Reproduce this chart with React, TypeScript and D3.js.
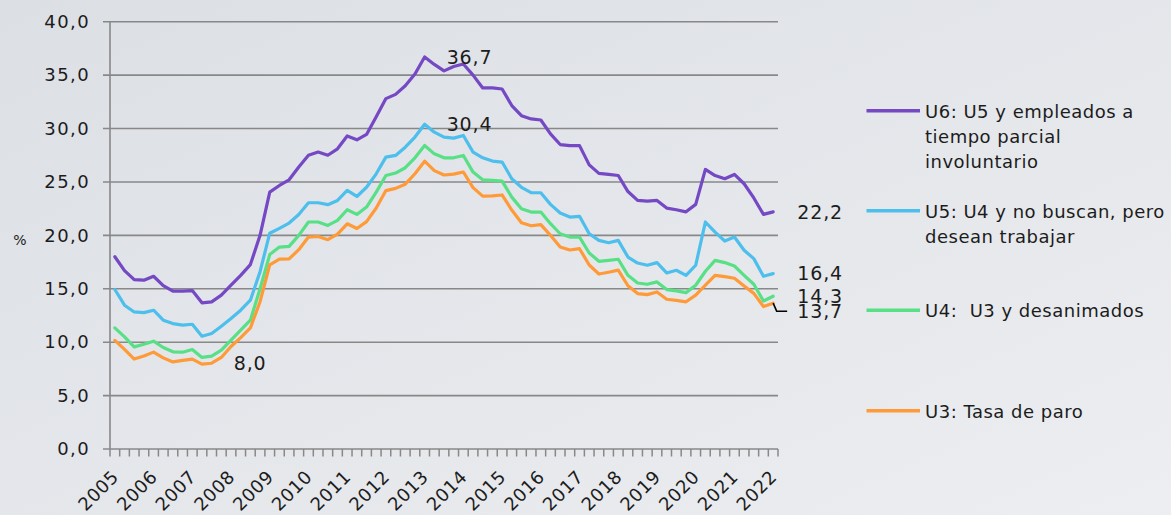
import React from 'react';
import * as d3 from 'd3';

// Quarterly categories 2005T1 .. 2022T1
const years = d3.range(2005, 2023);
const quarters: string[] = years.flatMap(y => ['T1', 'T2', 'T3', 'T4'].map(q => `${y}${q}`)).slice(0, 69);
const yearLabels: string[] = years.map(String);

const yTicks = [0, 5, 10, 15, 20, 25, 30, 35, 40];

// U3: Tasa de paro
const u3 = [10.17, 9.33, 8.42, 8.70, 9.07, 8.53, 8.15, 8.30, 8.42, 7.95, 8.03, 8.57, 9.60, 10.43, 11.33, 13.79,
  17.24, 17.77, 17.79, 18.66, 19.84, 19.89, 19.59, 20.11, 21.08, 20.64, 21.28, 22.56, 24.19, 24.40, 24.79, 25.77,
  26.94, 26.06, 25.65, 25.73, 25.93, 24.47, 23.67, 23.70, 23.78, 22.37, 21.18, 20.90, 21.00, 20.00, 18.91, 18.63,
  18.75, 17.22, 16.38, 16.55, 16.74, 15.28, 14.55, 14.45, 14.70, 14.02, 13.92, 13.78, 14.41, 15.33, 16.26, 16.13,
  15.98, 15.26, 14.57, 13.33, 13.65];

// U4: U3 y desanimados
const u4 = [11.34, 10.5, 9.56, 9.81, 10.09, 9.5, 9.1, 9.06, 9.31, 8.57, 8.69, 9.25, 10.19, 11.12, 12.06, 15.0,
  18.2, 18.9, 18.97, 20.0, 21.25, 21.25, 20.93, 21.4, 22.4, 21.96, 22.65, 24.05, 25.6, 25.83, 26.33, 27.26,
  28.41, 27.63, 27.26, 27.26, 27.48, 25.92, 25.2, 25.14, 25.08, 23.58, 22.49, 22.18, 22.18, 21.09, 20.15, 19.84,
  19.84, 18.35, 17.57, 17.66, 17.76, 16.26, 15.54, 15.42, 15.64, 14.92, 14.8, 14.64, 15.33, 16.64, 17.66, 17.45,
  17.13, 16.26, 15.42, 13.86, 14.3];

// U5: U4 y no buscan, pero desean trabajar
const u5 = [14.93, 13.46, 12.83, 12.77, 12.99, 12.06, 11.74, 11.59, 11.68, 10.56, 10.81, 11.5, 12.21, 12.99, 13.93, 16.6,
  20.2, 20.65, 21.15, 21.95, 23.05, 23.05, 22.87, 23.27, 24.2, 23.64, 24.5, 25.76, 27.32, 27.48, 28.25, 29.2,
  30.4, 29.66, 29.19, 29.1, 29.35, 27.79, 27.26, 26.95, 26.86, 25.3, 24.5, 23.99, 23.99, 22.9, 22.09, 21.71,
  21.78, 20.15, 19.53, 19.31, 19.53, 17.97, 17.41, 17.2, 17.45, 16.48, 16.73, 16.26, 17.2, 21.25, 20.3, 19.47,
  19.85, 18.6, 17.82, 16.17, 16.42];

// U6: U5 y empleados a tiempo parcial involuntario
const u6 = [18.0, 16.7, 15.86, 15.8, 16.17, 15.3, 14.77, 14.77, 14.83, 13.68, 13.77, 14.4, 15.33, 16.26, 17.26, 20.0,
  24.05, 24.67, 25.2, 26.4, 27.5, 27.8, 27.5, 28.1, 29.3, 28.94, 29.45, 31.1, 32.8, 33.2, 34.0, 35.1,
  36.7, 36.0, 35.4, 35.8, 36.04, 35.0, 33.8, 33.8, 33.7, 32.15, 31.2, 30.9, 30.8, 29.5, 28.5, 28.4,
  28.4, 26.6, 25.8, 25.7, 25.6, 24.1, 23.27, 23.2, 23.27, 22.55, 22.4, 22.2, 22.9, 26.17, 25.6, 25.3,
  25.7, 24.83, 23.5, 21.96, 22.2];

const seriesNames = [
  ['U6: U5 y empleados a', 'tiempo parcial', 'involuntario'],
  ['U5: U4 y no buscan, pero', 'desean trabajar'],
  ['U4:  U3 y desanimados'],
  ['U3: Tasa de paro'],
];
const seriesValues = [u6, u5, u4, u3];
const seriesColors = ['#7548c4', '#4dbfec', '#58e086', '#ff9a38'];

// labelled points: [series index, point index, dy offset, leader]
const dataLabels: [number, number, number, boolean][] = [
  [0, 32, 0, false],
  [1, 32, 0, false],
  [3, 10, 0, false],
  [0, 68, 0, false],
  [1, 68, 0, false],
  [2, 68, 0, false],
  [3, 68, 8, true],
];

const locale = d3.formatLocale({ decimal: ',', thousands: '.', grouping: [3], currency: ['', '€'] });
const fmt = locale.format('.1f');

const FONT = "'DejaVu Sans', sans-serif";
const TEXT = '#1c1c1c';
const GRID = '#888888';

export default function App() {
  const x = d3.scaleBand<number>().domain(d3.range(quarters.length)).range([110, 778]);
  const cx = (i: number) => (x(i) as number) + x.bandwidth() / 2;
  const y = d3.scaleLinear().domain([0, 40]).range([449, 21.7]);
  const line = d3.line<number>().x((_, i) => cx(i)).y(d => y(d));
  const legendY = [110.7, 210.7, 310.3, 410.7];

  return (
    <svg width={1171} height={515} style={{ position: 'absolute', left: 0, top: 0 }}
      fontFamily={FONT}>
      <defs>
        <linearGradient id="bg" x1="0" y1="0" x2="1" y2="1">
          <stop offset="0" stopColor="#dcdfe4" />
          <stop offset="1" stopColor="#eceef1" />
        </linearGradient>
      </defs>
      <rect x={0} y={0} width={1171} height={515} fill="url(#bg)" />

      {/* gridlines and y ticks */}
      {yTicks.map(t => (
        <g key={t}>
          <line x1={103} x2={778} y1={y(t)} y2={y(t)} stroke={GRID} strokeWidth={1.6} />
          <text x={90} y={y(t)} dy="0.35em" textAnchor="end" fontSize={18} letterSpacing={1.4} fill={TEXT}>{fmt(t)}</text>
        </g>
      ))}
      <line x1={110} x2={110} y1={y(40)} y2={y(0)} stroke={GRID} strokeWidth={1.6} />
      {d3.range(quarters.length + 1).map(k => {
        const xx = 110 + k * x.bandwidth();
        return <line key={k} x1={xx} x2={xx} y1={449} y2={456.5} stroke={GRID} strokeWidth={1.5} />;
      })}
      {quarters.map((q, i) => (i % 4 === 0 ? (
        <text key={q} transform={`translate(${cx(i) - 4},${469}) rotate(-45)`} textAnchor="end" dy="0.7em"
          fontSize={18} letterSpacing={0.6} fill={TEXT}>{yearLabels[i / 4]}</text>
      ) : null))}

      <text x={20} y={240} textAnchor="middle" dy="0.35em" fontSize={14} fill={TEXT}>%</text>

      {/* series */}
      {seriesValues.map((vals, s) => (
        <path key={s} d={line(vals) as string} fill="none" stroke={seriesColors[s]} strokeWidth={3.2}
          strokeLinejoin="round" strokeLinecap="round" />
      ))}

      {/* data labels */}
      {dataLabels.map(([s, i, dy, leader]) => {
        const px = cx(i);
        const py = y(seriesValues[s][i]);
        return (
          <g key={`${s}-${i}`}>
            {leader && (
              <polyline points={`${px},${py} ${px + 3.5},${py + dy} ${px + 14},${py + dy}`} fill="none"
                stroke="#000" strokeWidth={1.6} />
            )}
            <text x={px + (i === 68 ? 24 : 22)} y={py + dy} dy="0.36em" fontSize={19} letterSpacing={0.9}
              fill={TEXT}>{fmt(seriesValues[s][i])}</text>
          </g>
        );
      })}

      {/* legend */}
      {seriesNames.map((lines, s) => (
        <g key={s}>
          <line x1={866.5} x2={920} y1={legendY[s]} y2={legendY[s]} stroke={seriesColors[s]} strokeWidth={3.6} />
          <text x={925} y={legendY[s] + 7} fontSize={18} letterSpacing={0.5} fill={TEXT}>
            {lines.map((l, k) => (
              <tspan key={k} x={925} dy={k === 0 ? 0 : 25} style={{ whiteSpace: 'pre' }}>{l}</tspan>
            ))}
          </text>
        </g>
      ))}
    </svg>
  );
}
